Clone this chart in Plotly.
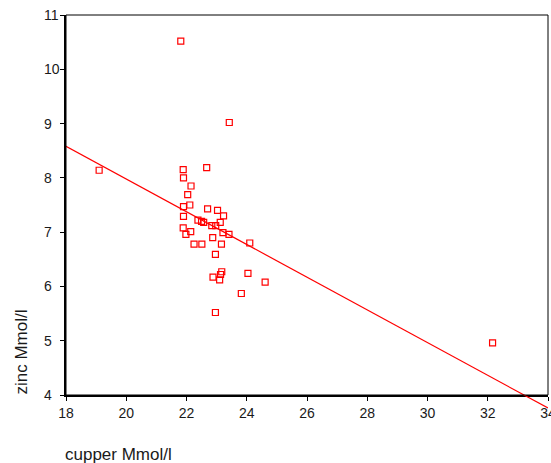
import plotly.graph_objects as go

# data
cupper = [21.81, 23.42, 19.10, 32.16,
          21.89, 22.67, 21.90, 22.15, 22.04, 21.90, 22.11, 22.70, 23.03, 21.90,
          23.23, 22.38, 22.50, 22.57, 22.84, 22.97, 23.12, 21.89, 22.14, 21.98,
          23.21, 23.41, 22.87, 24.10, 22.25, 22.51, 23.16, 22.96,
          23.17, 23.13, 23.10, 22.88, 24.04, 24.61, 23.82, 22.96]
zinc = [10.52, 9.02, 8.14, 4.96,
        8.15, 8.19, 8.00, 7.85, 7.69, 7.47, 7.50, 7.43, 7.40, 7.29,
        7.30, 7.22, 7.20, 7.18, 7.12, 7.12, 7.18, 7.08, 7.01, 6.96,
        6.99, 6.96, 6.90, 6.80, 6.78, 6.78, 6.78, 6.59,
        6.27, 6.22, 6.12, 6.17, 6.24, 6.08, 5.87, 5.52]

fit_x = [18, 34]
fit_y = [8.58, 3.76]

x_ticks = [18, 20, 22, 24, 26, 28, 30, 32, 34]
y_ticks = [4, 5, 6, 7, 8, 9, 10, 11]

RED = "#ff0000"
FONT = "Liberation Sans, Arial, sans-serif"
TXT = "#1a1a1a"

W, H = 551, 463
ml, mr = 66, 3
mt, mb = 15, 50
plot_w = W - ml - mr
plot_h = H - mt - mb
d = 18 / plot_h           # main y-domain bottom (x axis sits here)
y_lo, y_hi = 4, 11
y2_lo = y_lo - (d / (1 - d)) * (y_hi - y_lo)

fig = go.Figure()
fig.add_trace(go.Scatter(
    x=fit_x, y=fit_y, mode="lines", xaxis="x2", yaxis="y2",
    line=dict(color=RED, width=1.2), hoverinfo="skip", showlegend=False))
fig.add_trace(go.Scatter(
    x=cupper, y=zinc, mode="markers", xaxis="x", yaxis="y",
    marker=dict(symbol="square-open", size=6, color=RED, line=dict(width=1.2, color=RED)),
    showlegend=False, cliponaxis=False))

axis_common = dict(showgrid=False, zeroline=False, ticks="outside", ticklen=4,
                   tickwidth=1, tickcolor="black", showline=True, linewidth=2,
                   linecolor="black", automargin=False,
                   tickfont=dict(family=FONT, size=14, color=TXT))

annotations = [
    dict(text="cupper Mmol/l", xref="paper", yref="paper", x=(63 - ml) / plot_w, y=-0.105,
         xanchor="left", yanchor="middle", showarrow=False,
         font=dict(family=FONT, size=17, color=TXT)),
    dict(text="zinc Mmol/l", xref="paper", yref="paper", x=(21 - ml) / plot_w,
         y=(H - mb - 397) / plot_h,
         xanchor="center", yanchor="bottom", textangle=-90, showarrow=False,
         font=dict(family=FONT, size=17, color=TXT)),
]
# left-aligned y tick labels (SPSS style)
for v in y_ticks:
    annotations.append(dict(text=str(v), xref="paper", yref="y", x=(42 - ml) / plot_w, y=v,
                            xanchor="left", yanchor="middle", showarrow=False,
                            font=dict(family=FONT, size=14, color=TXT)))

fig.update_layout(
    width=W, height=H,
    margin=dict(l=ml, r=mr, t=mt, b=mb, autoexpand=False),
    paper_bgcolor="white", plot_bgcolor="rgba(0,0,0,0)",
    xaxis=dict(range=[18, 34], tickvals=x_ticks, domain=[0, 1], anchor="y",
               ticklabeloverflow="allow", **axis_common),
    yaxis=dict(range=[y_lo, y_hi], tickvals=y_ticks, domain=[d, 1], anchor="x",
               showticklabels=False, **axis_common),
    xaxis2=dict(range=[18, 34], domain=[0, 1], anchor="y2", visible=False),
    yaxis2=dict(range=[y2_lo, y_hi], domain=[0, 1], anchor="x2", visible=False),
    shapes=[dict(type="rect", xref="x domain", yref="y domain", x0=0, x1=1, y0=0, y1=1,
                 line=dict(color="black", width=1), layer="above")],
    annotations=annotations,
)

fig.write_html("out.html")
